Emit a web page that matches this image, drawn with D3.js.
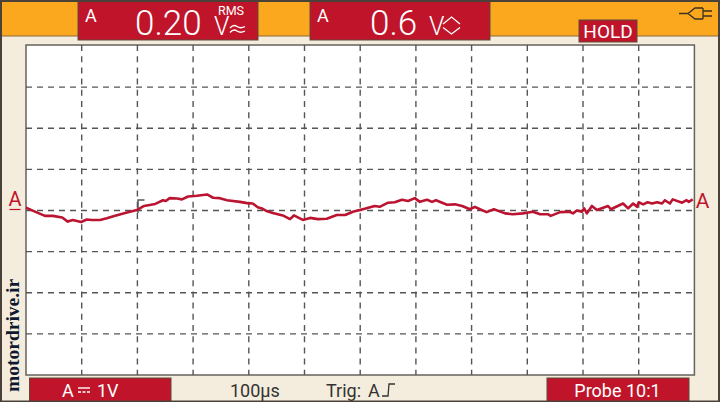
<!DOCTYPE html>
<html><head><meta charset="utf-8">
<script src="https://cdn.jsdelivr.net/npm/d3@7"></script>
<style>html,body{margin:0;padding:0;background:#f4ecdd}svg{display:block}text{font-family:Roboto,"Open Sans",sans-serif}</style>
</head><body><svg id="c" width="720" height="402"></svg>
<script>
const timeUs=[0,13,34,48,65,75,84,99,109,118,133,145,160,178,199,212,232,246,251,258,271,280,291,307,325,336,348,361,384,397,407,416,425,433,443,461,474,481,497,510,524,540,558,573,587,608,626,635,650,662,675,686,698,707,720,729,736,756,770,783,797,806,815,827,840,860,874,892,910,923,937,942,959,976,982,989,998,1002,1007,1016,1025,1045,1050,1072,1081,1090,1097,1100,1108,1116,1124,1133,1142,1147,1156,1161,1178,1186,1190,1197];
const volts=[.07,-.01,-.13,-.13,-.17,-.27,-.23,-.28,-.22,-.23,-.23,-.19,-.13,-.06,.01,.11,.16,.25,.23,.30,.29,.27,.34,.36,.39,.31,.30,.25,.21,.18,.17,.08,.04,-.02,-.06,-.12,-.21,-.12,-.23,-.18,-.21,-.20,-.11,-.11,-.03,.04,.11,.09,.19,.20,.26,.23,.30,.21,.26,.21,.25,.14,.15,.11,.03,.09,.03,-.04,.03,-.07,-.09,-.07,-.03,-.09,-.09,-.13,-.04,-.03,-.07,0,-.03,.05,-.07,.11,.01,.11,.03,.17,.05,.17,.09,.20,.15,.20,.17,.20,.17,.25,.17,.27,.19,.25,.21,.27];
const xTicks=d3.range(100,1200,100);
const yTicks=[-3,-2,-1,0,1,2,3];
const readings=[{ch:"A",val:"0.20"},{ch:"A",val:"0.6"}];

const RED="#c0142a",OR="#fba81e",DK="#5d4a3a",TR="#bb1430",GR="#555";
const svg=d3.select("#c");
const x=d3.scaleLinear().domain([0,1200]).range([26,694.4]);
const y=d3.scaleLinear().domain([-4,4]).range([375,46]);

function rect(a,b,w,h,f,s,sw){return svg.append("rect").attr("x",a).attr("y",b).attr("width",w).attr("height",h).attr("fill",f).attr("stroke",s||"none").attr("stroke-width",sw||0);}
function txt(a,b,t,sz,f,anc){return svg.append("text").attr("x",a).attr("y",b).text(t).attr("font-size",sz).attr("fill",f).attr("text-anchor",anc||"start");}
function path(d,s,sw,f){return svg.append("path").attr("d",d).attr("stroke",s).attr("stroke-width",sw).attr("fill",f||"none");}

rect(0,0,720,402,"#f4ecdd");
rect(1,1.5,718,34.5,OR,"#8a6a3a",1);

// plot
rect(26,45,668.4,330,"#fff","#66625c",1.5);
const g=svg.append("g");
g.selectAll("line.v").data(xTicks).join("line").attr("class","v")
 .attr("x1",d=>x(d)).attr("x2",d=>x(d)).attr("y1",45).attr("y2",375)
 .attr("stroke",GR).attr("stroke-width",1.4).attr("stroke-dasharray","6 5.2");
g.selectAll("line.h").data(yTicks).join("line").attr("class","h")
 .attr("y1",d=>y(d)).attr("y2",d=>y(d)).attr("x1",26).attr("x2",694)
 .attr("stroke",GR).attr("stroke-width",1.4).attr("stroke-dasharray","6 5");

// trigger mark
path("M144.5 200H138V213","#555",1.5);

// trace
const line=d3.line().x(d=>x(d[0])).y(d=>y(d[1]));
svg.append("path").datum(timeUs.map((t,i)=>[t,volts[i]])).attr("d",line)
 .attr("fill","none").attr("stroke",TR).attr("stroke-width",2.6).attr("stroke-linejoin","round");

// side labels
txt(15,206,"A",20,RED,"middle");
path("M9.5 209.5H20.5",RED,1.2);
txt(702.5,208,"A",21,RED,"middle");

// top boxes
rect(78,1,180,39,RED,DK,1);
rect(310,1,180,39,RED,DK,1);
txt(85,22,readings[0].ch,18,"#fff");
txt(135,35,readings[0].val,35,"#fff").attr("font-weight",300);
txt(214,35,"V",25,"#fff").attr("font-weight",300);
txt(218,15,"RMS",12.5,"#fff");
path("M230 28q3.5-4 7-1.5t8 0","#fff",1.3);
path("M230 32.5q3.5-4 7-1.5t8 0","#fff",1.3);
txt(317,22,readings[1].ch,18,"#fff");
txt(370,35,readings[1].val,35,"#fff").attr("font-weight",300);
txt(429,35,"V",25,"#fff").attr("font-weight",300);
path("M443 24L451.5 17L460 24","#fff",1.3);
path("M443 27.5L451.5 34L460 27.5","#fff",1.3);

// HOLD
rect(579,20,58,22,RED,DK,1);
txt(608,38,"HOLD",19,"#fff","middle");

// plug icon
path("M679 13.5H688L695 8H703M688 13.5L695 19H703M703 8V19M703 11H712M703 16H712","#3d3020",1.3);

// bottom
rect(29.5,378,141.5,24,RED,DK,1);
rect(547,378,142,24,RED,DK,1);
txt(62,397,"A",18,"#fff");
path("M78 388H90","#fff",1.4);
path("M78 392H90","#fff",1.4).attr("stroke-dasharray","3 1.5");
txt(97,397,"1V",18,"#fff");
txt(230,397,"100µs",18,"#333");
txt(326,397,"Trig:",18,"#333");
txt(368,397,"A",18,"#333");
path("M382 396H388L389 384H395","#333",1.3);
txt(617.5,397,"Probe 10:1",18,"#fff","middle");

// watermark
svg.append("text").attr("transform","translate(18.5,392) rotate(-90)").text("motordrive.ir")
 .style("font-family","'Liberation Serif',serif").attr("font-weight",700).attr("font-size",19.5).attr("fill","#101830");

// outer edge
rect(1,1,718,400.5,"none","#4a4238",2);
</script></body></html>
